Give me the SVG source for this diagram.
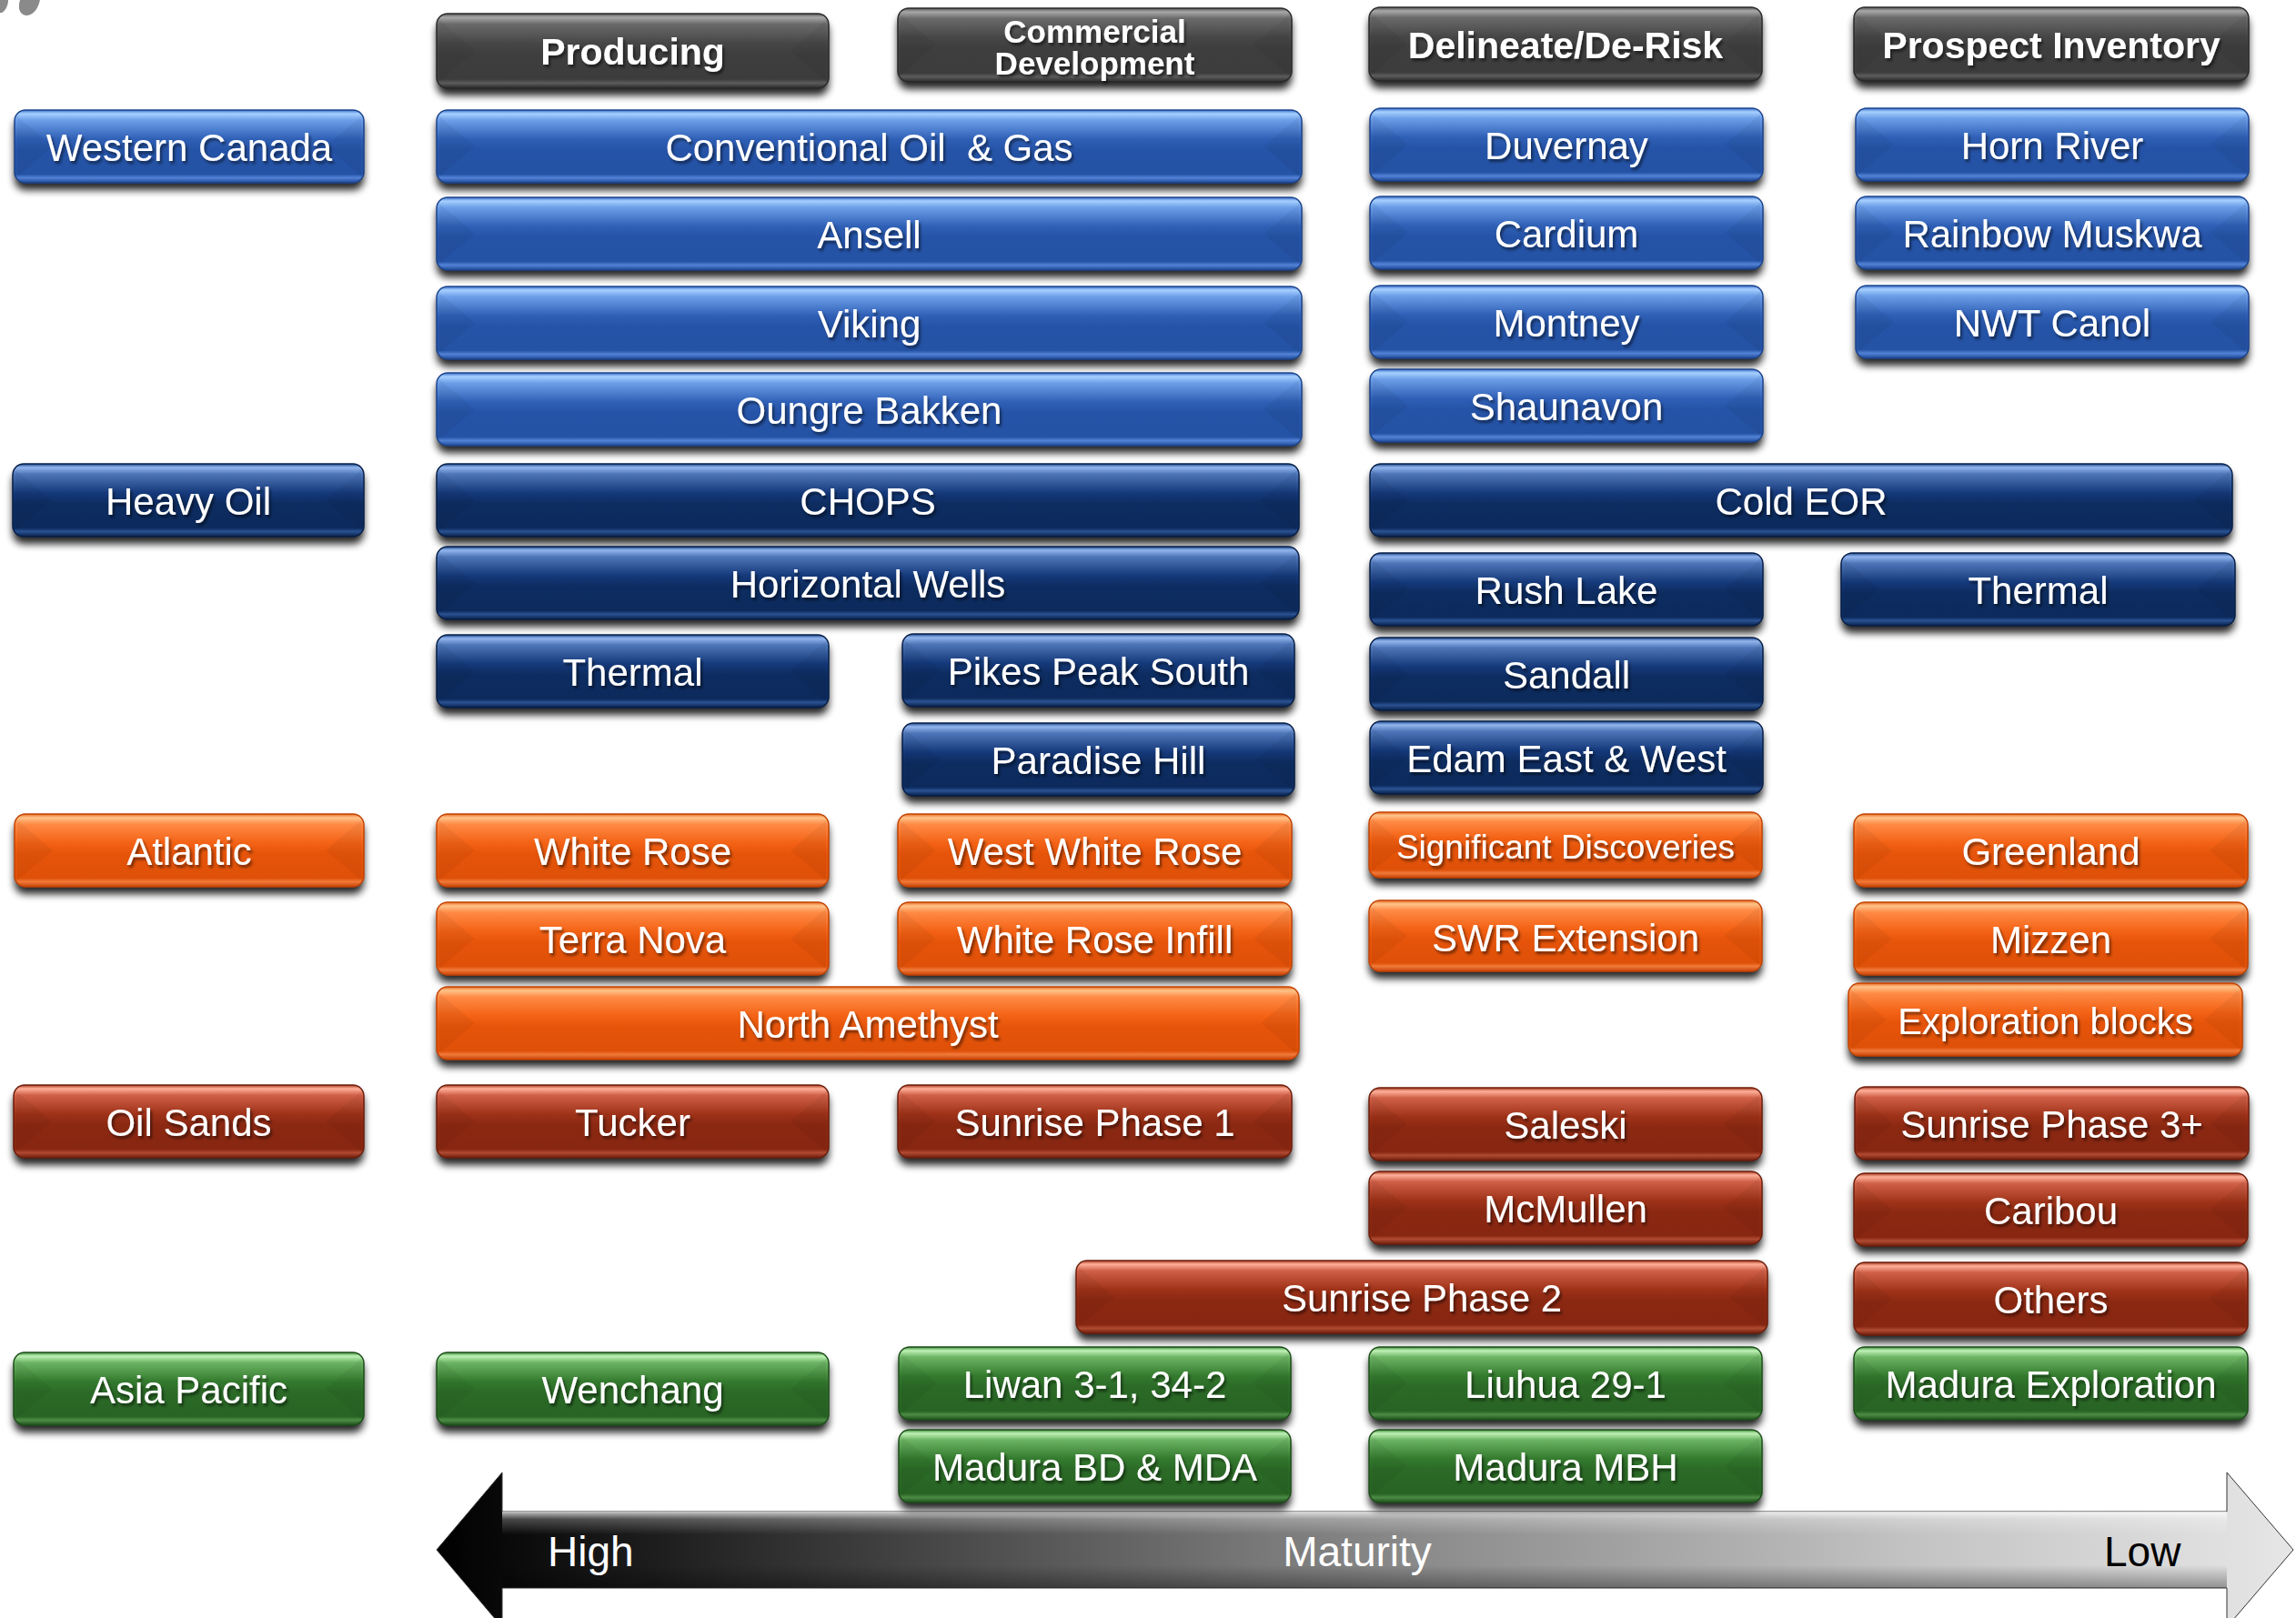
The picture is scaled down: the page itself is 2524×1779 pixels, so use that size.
<svg xmlns="http://www.w3.org/2000/svg" width="2524" height="1779" viewBox="0 0 2524 1779">
<defs>
<style>
.t{font-family:"Liberation Sans",Arial,Helvetica,sans-serif;font-size:42px;fill:#fff;text-anchor:middle;filter:url(#ts)}
.hd{font-weight:bold;font-size:41px}
.sh{fill:#000;opacity:.85;filter:url(#bs)}
.bx{stroke-width:1.5}
.fc{fill:#000;opacity:.045}
.B .bx{fill:url(#gB);stroke:#1c448e}
.N .bx{fill:url(#gN);stroke:#081f48}
.O .bx{fill:url(#gO);stroke:#c44404}
.R .bx{fill:url(#gR);stroke:#6e1e0c}
.G .bx{fill:url(#gG);stroke:#1e4f1b}
.K .bx{fill:url(#gK);stroke:#2a2a2a}
.ax{font-family:"Liberation Sans",Arial,Helvetica,sans-serif;font-size:46px}
</style>
<filter id="bs" x="-5%" y="-30%" width="110%" height="170%"><feGaussianBlur stdDeviation="4"/></filter>
<filter id="ts" x="-5%" y="-20%" width="110%" height="150%"><feDropShadow dx="2" dy="3" stdDeviation="1.5" flood-color="#000" flood-opacity="0.5"/></filter>
<filter id="as" x="-2%" y="-50%" width="104%" height="200%"><feGaussianBlur stdDeviation="5"/></filter>
<linearGradient id="gB" x1="0" y1="0" x2="0" y2="1">
<stop offset="0" stop-color="#3c70cc"/><stop offset="0.05" stop-color="#a6d0ff"/><stop offset="0.14" stop-color="#6c9ee8"/><stop offset="0.4" stop-color="#2f60b6"/><stop offset="0.55" stop-color="#2553a7"/><stop offset="0.88" stop-color="#2452a4"/><stop offset="0.93" stop-color="#5282d6"/><stop offset="1" stop-color="#1f4896"/>
</linearGradient>
<linearGradient id="gN" x1="0" y1="0" x2="0" y2="1">
<stop offset="0" stop-color="#1e4a8e"/><stop offset="0.05" stop-color="#93b6ee"/><stop offset="0.14" stop-color="#4e76b8"/><stop offset="0.4" stop-color="#15397a"/><stop offset="0.55" stop-color="#0d2c60"/><stop offset="0.88" stop-color="#0c2a5c"/><stop offset="0.93" stop-color="#2a5292"/><stop offset="1" stop-color="#081f48"/>
</linearGradient>
<linearGradient id="gO" x1="0" y1="0" x2="0" y2="1">
<stop offset="0" stop-color="#e86a20"/><stop offset="0.05" stop-color="#ffc48a"/><stop offset="0.14" stop-color="#ff8a45"/><stop offset="0.4" stop-color="#f36215"/><stop offset="0.55" stop-color="#e6540a"/><stop offset="0.88" stop-color="#df5008"/><stop offset="0.93" stop-color="#f07a3a"/><stop offset="1" stop-color="#c84206"/>
</linearGradient>
<linearGradient id="gR" x1="0" y1="0" x2="0" y2="1">
<stop offset="0" stop-color="#a83a20"/><stop offset="0.05" stop-color="#ffb09a"/><stop offset="0.14" stop-color="#d06048"/><stop offset="0.4" stop-color="#9e3218"/><stop offset="0.55" stop-color="#8b2812"/><stop offset="0.88" stop-color="#872611"/><stop offset="0.93" stop-color="#b04a32"/><stop offset="1" stop-color="#6e1e0c"/>
</linearGradient>
<linearGradient id="gG" x1="0" y1="0" x2="0" y2="1">
<stop offset="0" stop-color="#3d8a36"/><stop offset="0.05" stop-color="#bff2b6"/><stop offset="0.14" stop-color="#6cb464"/><stop offset="0.4" stop-color="#347a2e"/><stop offset="0.55" stop-color="#2b6a27"/><stop offset="0.88" stop-color="#286424"/><stop offset="0.93" stop-color="#4c8c45"/><stop offset="1" stop-color="#1e4f1b"/>
</linearGradient>
<linearGradient id="gK" x1="0" y1="0" x2="0" y2="1">
<stop offset="0" stop-color="#555"/><stop offset="0.05" stop-color="#a8a8a8"/><stop offset="0.14" stop-color="#6a6a6a"/><stop offset="0.4" stop-color="#464646"/><stop offset="0.55" stop-color="#3e3e3e"/><stop offset="0.88" stop-color="#3c3c3c"/><stop offset="0.93" stop-color="#5c5c5c"/><stop offset="1" stop-color="#2a2a2a"/>
</linearGradient>
<linearGradient id="gAx" x1="480" y1="0" x2="2521" y2="0" gradientUnits="userSpaceOnUse">
<stop offset="0" stop-color="#000"/><stop offset="0.12" stop-color="#1e1e1e"/><stop offset="0.45" stop-color="#7a7a7a"/><stop offset="0.8" stop-color="#c4c4c4"/><stop offset="1" stop-color="#e6e6e6"/>
</linearGradient>
<linearGradient id="gAv" x1="0" y1="1662" x2="0" y2="1746" gradientUnits="userSpaceOnUse">
<stop offset="0" stop-color="#fff" stop-opacity="0.75"/><stop offset="0.1" stop-color="#fff" stop-opacity="0.25"/><stop offset="0.3" stop-color="#fff" stop-opacity="0"/><stop offset="0.7" stop-color="#000" stop-opacity="0"/><stop offset="1" stop-color="#000" stop-opacity="0.35"/>
</linearGradient>
</defs>
<rect width="2524" height="1779" fill="#fff"/>

<!-- logo fragment top-left -->
<g id="logo-fragment" fill="#8a8a8a">
<path d="M0,0 L9,0 C9,6 6,12 2,14 L0,14 Z"/>
<path d="M22,0 L44,0 C42,8 38,16 30,17 C22,17 19,10 22,0 Z"/>
</g>

<g id="connectors">
<g id="maturity-axis">
<path d="M552,1758 L2448,1758" stroke="#000" stroke-width="14" opacity="0.6" filter="url(#as)"/>
<path d="M480,1704 L552,1619 L552,1662 L2448,1662 L2448,1619 L2521,1704 L2448,1789 L2448,1746 L552,1746 L552,1789 Z" fill="url(#gAx)" stroke="#333" stroke-width="1"/>
<rect x="552" y="1662" width="1896" height="84" fill="url(#gAv)"/>
<text class="ax" x="602" y="1722" fill="#fff">High</text>
<text class="ax" x="1492" y="1722" fill="#fff" text-anchor="middle">Maturity</text>
<text class="ax" x="2313" y="1722" fill="#000">Low</text>
</g>
</g>

<!-- headers -->
<g id="h-producing" class="K" transform="translate(480,15)"><rect class="sh" y="8" width="431" height="82" rx="12"/><rect class="bx" width="431" height="82" rx="12"/><path class="fc" d="M3,7L42,41L3,75Z M428,7L389,41L428,75Z"/><text class="t hd" x="215.5" y="56">Producing</text></g>
<g id="h-commercial" class="K" transform="translate(987,9)"><rect class="sh" y="8" width="433" height="81" rx="12"/><rect class="bx" width="433" height="81" rx="12"/><path class="fc" d="M3,7L42,40L3,74Z M430,7L391,40L430,74Z"/><text class="t hd" x="216.5" y="38" style="font-size:35px">Commercial</text><text class="t hd" x="216.5" y="73" style="font-size:35px">Development</text></g>
<g id="h-delineate" class="K" transform="translate(1505,8)"><rect class="sh" y="8" width="432" height="81" rx="12"/><rect class="bx" width="432" height="81" rx="12"/><path class="fc" d="M3,7L42,40L3,74Z M429,7L390,40L429,74Z"/><text class="t hd" x="216" y="56">Delineate/De-Risk</text></g>
<g id="h-prospect" class="K" transform="translate(2038,8)"><rect class="sh" y="8" width="434" height="81" rx="12"/><rect class="bx" width="434" height="81" rx="12"/><path class="fc" d="M3,7L42,40L3,74Z M431,7L392,40L431,74Z"/><text class="t hd" x="217" y="56">Prospect Inventory</text></g>

<!-- Western Canada -->
<g id="n-western-canada" class="B" transform="translate(16,121)"><rect class="sh" y="8" width="384" height="80" rx="12"/><rect class="bx" width="384" height="80" rx="12"/><path class="fc" d="M3,7L42,40L3,73Z M381,7L342,40L381,73Z"/><text class="t" x="192" y="56">Western Canada</text></g>
<g id="n-conventional" class="B" transform="translate(480,121)"><rect class="sh" y="8" width="951" height="80" rx="12"/><rect class="bx" width="951" height="80" rx="12"/><path class="fc" d="M3,7L42,40L3,73Z M948,7L909,40L948,73Z"/><text class="t" x="475.5" y="56" style="white-space:pre">Conventional Oil  &amp; Gas</text></g>
<g id="n-duvernay" class="B" transform="translate(1506,119)"><rect class="sh" y="8" width="432" height="80" rx="12"/><rect class="bx" width="432" height="80" rx="12"/><path class="fc" d="M3,7L42,40L3,73Z M429,7L390,40L429,73Z"/><text class="t" x="216" y="56">Duvernay</text></g>
<g id="n-horn-river" class="B" transform="translate(2040,119)"><rect class="sh" y="8" width="432" height="80" rx="12"/><rect class="bx" width="432" height="80" rx="12"/><path class="fc" d="M3,7L42,40L3,73Z M429,7L390,40L429,73Z"/><text class="t" x="216" y="56">Horn River</text></g>
<g id="n-ansell" class="B" transform="translate(480,217)"><rect class="sh" y="8" width="951" height="80" rx="12"/><rect class="bx" width="951" height="80" rx="12"/><path class="fc" d="M3,7L42,40L3,73Z M948,7L909,40L948,73Z"/><text class="t" x="475.5" y="56">Ansell</text></g>
<g id="n-cardium" class="B" transform="translate(1506,216)"><rect class="sh" y="8" width="432" height="80" rx="12"/><rect class="bx" width="432" height="80" rx="12"/><path class="fc" d="M3,7L42,40L3,73Z M429,7L390,40L429,73Z"/><text class="t" x="216" y="56">Cardium</text></g>
<g id="n-rainbow-muskwa" class="B" transform="translate(2040,216)"><rect class="sh" y="8" width="432" height="80" rx="12"/><rect class="bx" width="432" height="80" rx="12"/><path class="fc" d="M3,7L42,40L3,73Z M429,7L390,40L429,73Z"/><text class="t" x="216" y="56">Rainbow Muskwa</text></g>
<g id="n-viking" class="B" transform="translate(480,315)"><rect class="sh" y="8" width="951" height="80" rx="12"/><rect class="bx" width="951" height="80" rx="12"/><path class="fc" d="M3,7L42,40L3,73Z M948,7L909,40L948,73Z"/><text class="t" x="475.5" y="56">Viking</text></g>
<g id="n-montney" class="B" transform="translate(1506,314)"><rect class="sh" y="8" width="432" height="80" rx="12"/><rect class="bx" width="432" height="80" rx="12"/><path class="fc" d="M3,7L42,40L3,73Z M429,7L390,40L429,73Z"/><text class="t" x="216" y="56">Montney</text></g>
<g id="n-nwt-canol" class="B" transform="translate(2040,314)"><rect class="sh" y="8" width="432" height="80" rx="12"/><rect class="bx" width="432" height="80" rx="12"/><path class="fc" d="M3,7L42,40L3,73Z M429,7L390,40L429,73Z"/><text class="t" x="216" y="56">NWT Canol</text></g>
<g id="n-oungre-bakken" class="B" transform="translate(480,410)"><rect class="sh" y="8" width="951" height="80" rx="12"/><rect class="bx" width="951" height="80" rx="12"/><path class="fc" d="M3,7L42,40L3,73Z M948,7L909,40L948,73Z"/><text class="t" x="475.5" y="56">Oungre Bakken</text></g>
<g id="n-shaunavon" class="B" transform="translate(1506,406)"><rect class="sh" y="8" width="432" height="80" rx="12"/><rect class="bx" width="432" height="80" rx="12"/><path class="fc" d="M3,7L42,40L3,73Z M429,7L390,40L429,73Z"/><text class="t" x="216" y="56">Shaunavon</text></g>

<!-- Heavy Oil -->
<g id="n-heavy-oil" class="N" transform="translate(14,510)"><rect class="sh" y="8" width="386" height="80" rx="12"/><rect class="bx" width="386" height="80" rx="12"/><path class="fc" d="M3,7L42,40L3,73Z M383,7L344,40L383,73Z"/><text class="t" x="193" y="56">Heavy Oil</text></g>
<g id="n-chops" class="N" transform="translate(480,510)"><rect class="sh" y="8" width="948" height="80" rx="12"/><rect class="bx" width="948" height="80" rx="12"/><path class="fc" d="M3,7L42,40L3,73Z M945,7L906,40L945,73Z"/><text class="t" x="474" y="56">CHOPS</text></g>
<g id="n-horizontal-wells" class="N" transform="translate(480,601)"><rect class="sh" y="8" width="948" height="80" rx="12"/><rect class="bx" width="948" height="80" rx="12"/><path class="fc" d="M3,7L42,40L3,73Z M945,7L906,40L945,73Z"/><text class="t" x="474" y="56">Horizontal Wells</text></g>
<g id="n-thermal-producing" class="N" transform="translate(480,698)"><rect class="sh" y="8" width="431" height="80" rx="12"/><rect class="bx" width="431" height="80" rx="12"/><path class="fc" d="M3,7L42,40L3,73Z M428,7L389,40L428,73Z"/><text class="t" x="215.5" y="56">Thermal</text></g>
<g id="n-pikes-peak-south" class="N" transform="translate(992,697)"><rect class="sh" y="8" width="431" height="80" rx="12"/><rect class="bx" width="431" height="80" rx="12"/><path class="fc" d="M3,7L42,40L3,73Z M428,7L389,40L428,73Z"/><text class="t" x="215.5" y="56">Pikes Peak South</text></g>
<g id="n-paradise-hill" class="N" transform="translate(992,795)"><rect class="sh" y="8" width="431" height="80" rx="12"/><rect class="bx" width="431" height="80" rx="12"/><path class="fc" d="M3,7L42,40L3,73Z M428,7L389,40L428,73Z"/><text class="t" x="215.5" y="56">Paradise Hill</text></g>
<g id="n-cold-eor" class="N" transform="translate(1506,510)"><rect class="sh" y="8" width="948" height="80" rx="12"/><rect class="bx" width="948" height="80" rx="12"/><path class="fc" d="M3,7L42,40L3,73Z M945,7L906,40L945,73Z"/><text class="t" x="474" y="56">Cold EOR</text></g>
<g id="n-rush-lake" class="N" transform="translate(1506,608)"><rect class="sh" y="8" width="432" height="80" rx="12"/><rect class="bx" width="432" height="80" rx="12"/><path class="fc" d="M3,7L42,40L3,73Z M429,7L390,40L429,73Z"/><text class="t" x="216" y="56">Rush Lake</text></g>
<g id="n-thermal-prospect" class="N" transform="translate(2024,608)"><rect class="sh" y="8" width="433" height="80" rx="12"/><rect class="bx" width="433" height="80" rx="12"/><path class="fc" d="M3,7L42,40L3,73Z M430,7L391,40L430,73Z"/><text class="t" x="216.5" y="56">Thermal</text></g>
<g id="n-sandall" class="N" transform="translate(1506,701)"><rect class="sh" y="8" width="432" height="80" rx="12"/><rect class="bx" width="432" height="80" rx="12"/><path class="fc" d="M3,7L42,40L3,73Z M429,7L390,40L429,73Z"/><text class="t" x="216" y="56">Sandall</text></g>
<g id="n-edam" class="N" transform="translate(1506,793)"><rect class="sh" y="8" width="432" height="80" rx="12"/><rect class="bx" width="432" height="80" rx="12"/><path class="fc" d="M3,7L42,40L3,73Z M429,7L390,40L429,73Z"/><text class="t" x="216" y="56">Edam East &amp; West</text></g>

<!-- Atlantic -->
<g id="n-atlantic" class="O" transform="translate(16,895)"><rect class="sh" y="8" width="384" height="80" rx="12"/><rect class="bx" width="384" height="80" rx="12"/><path class="fc" d="M3,7L42,40L3,73Z M381,7L342,40L381,73Z"/><text class="t" x="192" y="56">Atlantic</text></g>
<g id="n-white-rose" class="O" transform="translate(480,895)"><rect class="sh" y="8" width="431" height="80" rx="12"/><rect class="bx" width="431" height="80" rx="12"/><path class="fc" d="M3,7L42,40L3,73Z M428,7L389,40L428,73Z"/><text class="t" x="215.5" y="56">White Rose</text></g>
<g id="n-west-white-rose" class="O" transform="translate(987,895)"><rect class="sh" y="8" width="433" height="80" rx="12"/><rect class="bx" width="433" height="80" rx="12"/><path class="fc" d="M3,7L42,40L3,73Z M430,7L391,40L430,73Z"/><text class="t" x="216.5" y="56">West White Rose</text></g>
<g id="n-significant-discoveries" class="O" transform="translate(1505,893)"><rect class="sh" y="8" width="432" height="72" rx="12"/><rect class="bx" width="432" height="72" rx="12"/><path class="fc" d="M3,7L40,36L3,65Z M429,7L392,36L429,65Z"/><text class="t" x="216" y="51" style="font-size:37px">Significant Discoveries</text></g>
<g id="n-greenland" class="O" transform="translate(2038,895)"><rect class="sh" y="8" width="433" height="80" rx="12"/><rect class="bx" width="433" height="80" rx="12"/><path class="fc" d="M3,7L42,40L3,73Z M430,7L391,40L430,73Z"/><text class="t" x="216.5" y="56">Greenland</text></g>
<g id="n-terra-nova" class="O" transform="translate(480,992)"><rect class="sh" y="8" width="431" height="80" rx="12"/><rect class="bx" width="431" height="80" rx="12"/><path class="fc" d="M3,7L42,40L3,73Z M428,7L389,40L428,73Z"/><text class="t" x="215.5" y="56">Terra Nova</text></g>
<g id="n-white-rose-infill" class="O" transform="translate(987,992)"><rect class="sh" y="8" width="433" height="80" rx="12"/><rect class="bx" width="433" height="80" rx="12"/><path class="fc" d="M3,7L42,40L3,73Z M430,7L391,40L430,73Z"/><text class="t" x="216.5" y="56">White Rose Infill</text></g>
<g id="n-swr-extension" class="O" transform="translate(1505,990)"><rect class="sh" y="8" width="432" height="78" rx="12"/><rect class="bx" width="432" height="78" rx="12"/><path class="fc" d="M3,7L42,39L3,71Z M429,7L390,39L429,71Z"/><text class="t" x="216" y="56">SWR Extension</text></g>
<g id="n-mizzen" class="O" transform="translate(2038,992)"><rect class="sh" y="8" width="433" height="80" rx="12"/><rect class="bx" width="433" height="80" rx="12"/><path class="fc" d="M3,7L42,40L3,73Z M430,7L391,40L430,73Z"/><text class="t" x="216.5" y="56">Mizzen</text></g>
<g id="n-north-amethyst" class="O" transform="translate(480,1085)"><rect class="sh" y="8" width="948" height="80" rx="12"/><rect class="bx" width="948" height="80" rx="12"/><path class="fc" d="M3,7L42,40L3,73Z M945,7L906,40L945,73Z"/><text class="t" x="474" y="56">North Amethyst</text></g>
<g id="n-exploration-blocks" class="O" transform="translate(2032,1081)"><rect class="sh" y="8" width="433" height="80" rx="12"/><rect class="bx" width="433" height="80" rx="12"/><path class="fc" d="M3,7L42,40L3,73Z M430,7L391,40L430,73Z"/><text class="t" x="216.5" y="56" style="font-size:40px">Exploration blocks</text></g>

<!-- Oil Sands -->
<g id="n-oil-sands" class="R" transform="translate(15,1193)"><rect class="sh" y="8" width="385" height="80" rx="12"/><rect class="bx" width="385" height="80" rx="12"/><path class="fc" d="M3,7L42,40L3,73Z M382,7L343,40L382,73Z"/><text class="t" x="192.5" y="56">Oil Sands</text></g>
<g id="n-tucker" class="R" transform="translate(480,1193)"><rect class="sh" y="8" width="431" height="80" rx="12"/><rect class="bx" width="431" height="80" rx="12"/><path class="fc" d="M3,7L42,40L3,73Z M428,7L389,40L428,73Z"/><text class="t" x="215.5" y="56">Tucker</text></g>
<g id="n-sunrise-1" class="R" transform="translate(987,1193)"><rect class="sh" y="8" width="433" height="80" rx="12"/><rect class="bx" width="433" height="80" rx="12"/><path class="fc" d="M3,7L42,40L3,73Z M430,7L391,40L430,73Z"/><text class="t" x="216.5" y="56">Sunrise Phase 1</text></g>
<g id="n-saleski" class="R" transform="translate(1505,1196)"><rect class="sh" y="8" width="432" height="80" rx="12"/><rect class="bx" width="432" height="80" rx="12"/><path class="fc" d="M3,7L42,40L3,73Z M429,7L390,40L429,73Z"/><text class="t" x="216" y="56">Saleski</text></g>
<g id="n-sunrise-3" class="R" transform="translate(2039,1195)"><rect class="sh" y="8" width="433" height="80" rx="12"/><rect class="bx" width="433" height="80" rx="12"/><path class="fc" d="M3,7L42,40L3,73Z M430,7L391,40L430,73Z"/><text class="t" x="216.5" y="56">Sunrise Phase 3+</text></g>
<g id="n-mcmullen" class="R" transform="translate(1505,1288)"><rect class="sh" y="8" width="432" height="80" rx="12"/><rect class="bx" width="432" height="80" rx="12"/><path class="fc" d="M3,7L42,40L3,73Z M429,7L390,40L429,73Z"/><text class="t" x="216" y="56">McMullen</text></g>
<g id="n-caribou" class="R" transform="translate(2038,1290)"><rect class="sh" y="8" width="433" height="80" rx="12"/><rect class="bx" width="433" height="80" rx="12"/><path class="fc" d="M3,7L42,40L3,73Z M430,7L391,40L430,73Z"/><text class="t" x="216.5" y="56">Caribou</text></g>
<g id="n-sunrise-2" class="R" transform="translate(1183,1386)"><rect class="sh" y="8" width="760" height="80" rx="12"/><rect class="bx" width="760" height="80" rx="12"/><path class="fc" d="M3,7L42,40L3,73Z M757,7L718,40L757,73Z"/><text class="t" x="380" y="56">Sunrise Phase 2</text></g>
<g id="n-others" class="R" transform="translate(2038,1388)"><rect class="sh" y="8" width="433" height="80" rx="12"/><rect class="bx" width="433" height="80" rx="12"/><path class="fc" d="M3,7L42,40L3,73Z M430,7L391,40L430,73Z"/><text class="t" x="216.5" y="56">Others</text></g>

<!-- Asia Pacific -->
<g id="n-asia-pacific" class="G" transform="translate(15,1487)"><rect class="sh" y="8" width="385" height="80" rx="12"/><rect class="bx" width="385" height="80" rx="12"/><path class="fc" d="M3,7L42,40L3,73Z M382,7L343,40L382,73Z"/><text class="t" x="192.5" y="56">Asia Pacific</text></g>
<g id="n-wenchang" class="G" transform="translate(480,1487)"><rect class="sh" y="8" width="431" height="80" rx="12"/><rect class="bx" width="431" height="80" rx="12"/><path class="fc" d="M3,7L42,40L3,73Z M428,7L389,40L428,73Z"/><text class="t" x="215.5" y="56">Wenchang</text></g>
<g id="n-liwan" class="G" transform="translate(988,1481)"><rect class="sh" y="8" width="431" height="80" rx="12"/><rect class="bx" width="431" height="80" rx="12"/><path class="fc" d="M3,7L42,40L3,73Z M428,7L389,40L428,73Z"/><text class="t" x="215.5" y="56">Liwan 3-1, 34-2</text></g>
<g id="n-liuhua" class="G" transform="translate(1505,1481)"><rect class="sh" y="8" width="432" height="80" rx="12"/><rect class="bx" width="432" height="80" rx="12"/><path class="fc" d="M3,7L42,40L3,73Z M429,7L390,40L429,73Z"/><text class="t" x="216" y="56">Liuhua 29-1</text></g>
<g id="n-madura-exploration" class="G" transform="translate(2038,1481)"><rect class="sh" y="8" width="433" height="80" rx="12"/><rect class="bx" width="433" height="80" rx="12"/><path class="fc" d="M3,7L42,40L3,73Z M430,7L391,40L430,73Z"/><text class="t" x="216.5" y="56">Madura Exploration</text></g>
<g id="n-madura-bd" class="G" transform="translate(988,1572)"><rect class="sh" y="8" width="431" height="80" rx="12"/><rect class="bx" width="431" height="80" rx="12"/><path class="fc" d="M3,7L42,40L3,73Z M428,7L389,40L428,73Z"/><text class="t" x="215.5" y="56">Madura BD &amp; MDA</text></g>
<g id="n-madura-mbh" class="G" transform="translate(1505,1572)"><rect class="sh" y="8" width="432" height="80" rx="12"/><rect class="bx" width="432" height="80" rx="12"/><path class="fc" d="M3,7L42,40L3,73Z M429,7L390,40L429,73Z"/><text class="t" x="216" y="56">Madura MBH</text></g>
</svg>
